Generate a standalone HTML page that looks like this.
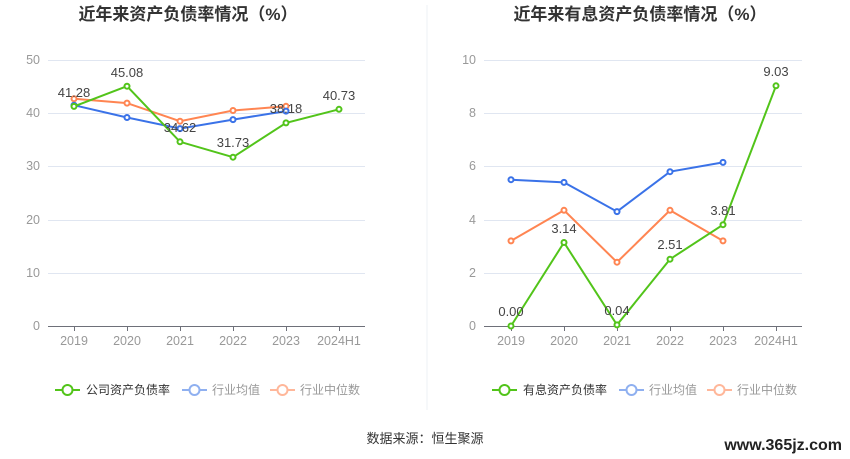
<!DOCTYPE html>
<html><head><meta charset="utf-8"><style>
body{margin:0;background:#fff;}
svg{display:block;font-family:"Liberation Sans","Noto Sans CJK SC",sans-serif;}
</style></head><body>
<svg width="850" height="459" viewBox="0 0 850 459">
<rect width="850" height="459" fill="#fff"/>
<line x1="427" y1="5" x2="427" y2="410" stroke="#eef0f4"/>
<text x="188" y="20" text-anchor="middle" font-size="17" font-weight="bold" fill="#333">近年来资产负债率情况（%）</text>
<text x="640" y="20" text-anchor="middle" font-size="17" font-weight="bold" fill="#333">近年来有息资产负债率情况（%）</text>
<g stroke="#e0e6f1" stroke-width="1">
<line x1="48" y1="60.5" x2="365" y2="60.5"/><line x1="48" y1="113.5" x2="365" y2="113.5"/><line x1="48" y1="166.5" x2="365" y2="166.5"/><line x1="48" y1="220.5" x2="365" y2="220.5"/><line x1="48" y1="273.5" x2="365" y2="273.5"/>
<line x1="484" y1="60.5" x2="802" y2="60.5"/><line x1="484" y1="113.5" x2="802" y2="113.5"/><line x1="484" y1="166.5" x2="802" y2="166.5"/><line x1="484" y1="220.5" x2="802" y2="220.5"/><line x1="484" y1="273.5" x2="802" y2="273.5"/>
</g>
<g stroke="#6e7079" stroke-width="1">
<line x1="48" y1="326.5" x2="365" y2="326.5"/><line x1="484" y1="326.5" x2="802" y2="326.5"/>
<line x1="74.5" y1="326" x2="74.5" y2="331"/><line x1="127.5" y1="326" x2="127.5" y2="331"/><line x1="180.5" y1="326" x2="180.5" y2="331"/><line x1="233.5" y1="326" x2="233.5" y2="331"/><line x1="286.5" y1="326" x2="286.5" y2="331"/><line x1="339.5" y1="326" x2="339.5" y2="331"/>
<line x1="511.5" y1="326" x2="511.5" y2="331"/><line x1="564.5" y1="326" x2="564.5" y2="331"/><line x1="617.5" y1="326" x2="617.5" y2="331"/><line x1="670.5" y1="326" x2="670.5" y2="331"/><line x1="723.5" y1="326" x2="723.5" y2="331"/><line x1="776.5" y1="326" x2="776.5" y2="331"/>
</g>
<g font-size="12.5" fill="#999" text-anchor="end">
<text x="40" y="64">50</text><text x="40" y="117">40</text><text x="40" y="170">30</text><text x="40" y="224">20</text><text x="40" y="277">10</text><text x="40" y="330">0</text>
<text x="476" y="64">10</text><text x="476" y="117">8</text><text x="476" y="170">6</text><text x="476" y="224">4</text><text x="476" y="277">2</text><text x="476" y="330">0</text>
</g>
<g font-size="12.5" fill="#999" text-anchor="middle">
<text x="74" y="345">2019</text><text x="127" y="345">2020</text><text x="180" y="345">2021</text><text x="233" y="345">2022</text><text x="286" y="345">2023</text><text x="339" y="345">2024H1</text>
<text x="511" y="345">2019</text><text x="564" y="345">2020</text><text x="617" y="345">2021</text><text x="670" y="345">2022</text><text x="723" y="345">2023</text><text x="776" y="345">2024H1</text>
</g>
<g fill="#fff" stroke-width="2">
<g stroke="#ff8552"><polyline fill="none" points="74,98.8 127,103.1 180,121.2 233,110.5 286,106.3"/>
<circle cx="74" cy="98.8" r="2.5"/><circle cx="127" cy="103.1" r="2.5"/><circle cx="180" cy="121.2" r="2.5"/><circle cx="233" cy="110.5" r="2.5"/><circle cx="286" cy="106.3" r="2.5"/></g>
<g stroke="#3a72e8"><polyline fill="none" points="74,105.2 127,117.5 180,128.6 233,119.6 286,111.1"/>
<circle cx="74" cy="105.2" r="2.5"/><circle cx="127" cy="117.5" r="2.5"/><circle cx="180" cy="128.6" r="2.5"/><circle cx="233" cy="119.6" r="2.5"/><circle cx="286" cy="111.1" r="2.5"/></g>
<g stroke="#52c41a"><polyline fill="none" points="74,106.4 127,86.2 180,141.8 233,157.2 286,122.9 339,109.3"/>
<circle cx="74" cy="106.4" r="2.5"/><circle cx="127" cy="86.2" r="2.5"/><circle cx="180" cy="141.8" r="2.5"/><circle cx="233" cy="157.2" r="2.5"/><circle cx="286" cy="122.9" r="2.5"/><circle cx="339" cy="109.3" r="2.5"/></g>
<g stroke="#ff8552"><polyline fill="none" points="511,240.9 564,210.3 617,262.2 670,210.3 723,240.9"/>
<circle cx="511" cy="240.9" r="2.5"/><circle cx="564" cy="210.3" r="2.5"/><circle cx="617" cy="262.2" r="2.5"/><circle cx="670" cy="210.3" r="2.5"/><circle cx="723" cy="240.9" r="2.5"/></g>
<g stroke="#3a72e8"><polyline fill="none" points="511,179.7 564,182.4 617,211.6 670,171.7 723,162.4"/>
<circle cx="511" cy="179.7" r="2.5"/><circle cx="564" cy="182.4" r="2.5"/><circle cx="617" cy="211.6" r="2.5"/><circle cx="670" cy="171.7" r="2.5"/><circle cx="723" cy="162.4" r="2.5"/></g>
<g stroke="#52c41a"><polyline fill="none" points="511,326 564,242.5 617,324.9 670,259.2 723,224.7 776,85.8"/>
<circle cx="511" cy="326" r="2.5"/><circle cx="564" cy="242.5" r="2.5"/><circle cx="617" cy="324.9" r="2.5"/><circle cx="670" cy="259.2" r="2.5"/><circle cx="723" cy="224.7" r="2.5"/><circle cx="776" cy="85.8" r="2.5"/></g>
</g>
<g font-size="13" fill="#444" text-anchor="middle">
<text x="74" y="97">41.28</text><text x="127" y="77">45.08</text><text x="180" y="132">34.62</text><text x="233" y="147">31.73</text><text x="286" y="113">38.18</text><text x="339" y="100">40.73</text>
<text x="511" y="316">0.00</text><text x="564" y="233">3.14</text><text x="617" y="315">0.04</text><text x="670" y="249">2.51</text><text x="723" y="215">3.81</text><text x="776" y="76">9.03</text>
</g>
<g stroke-width="2" fill="#fff" font-size="12">
<line x1="55" y1="390" x2="80" y2="390" stroke="#52c41a"/><circle cx="67.5" cy="390" r="5" stroke="#52c41a"/>
<text x="86" y="394" fill="#333" stroke="none">公司资产负债率</text>
<line x1="182" y1="390" x2="207" y2="390" stroke="#8fb0f0"/><circle cx="194.5" cy="390" r="5" stroke="#8fb0f0"/>
<text x="212" y="394" fill="#999" stroke="none">行业均值</text>
<line x1="270" y1="390" x2="295" y2="390" stroke="#ffb79a"/><circle cx="282.5" cy="390" r="5" stroke="#ffb79a"/>
<text x="300" y="394" fill="#999" stroke="none">行业中位数</text>
<line x1="492" y1="390" x2="517" y2="390" stroke="#52c41a"/><circle cx="504.5" cy="390" r="5" stroke="#52c41a"/>
<text x="523" y="394" fill="#333" stroke="none">有息资产负债率</text>
<line x1="619" y1="390" x2="644" y2="390" stroke="#8fb0f0"/><circle cx="631.5" cy="390" r="5" stroke="#8fb0f0"/>
<text x="649" y="394" fill="#999" stroke="none">行业均值</text>
<line x1="707" y1="390" x2="732" y2="390" stroke="#ffb79a"/><circle cx="719.5" cy="390" r="5" stroke="#ffb79a"/>
<text x="737" y="394" fill="#999" stroke="none">行业中位数</text>
</g>
<text x="425" y="443" text-anchor="middle" font-size="13" fill="#333">数据来源：恒生聚源</text>
<text x="842" y="450" text-anchor="end" font-size="16" font-weight="bold" fill="#222">www.365jz.com</text>
</svg>
</body></html>
